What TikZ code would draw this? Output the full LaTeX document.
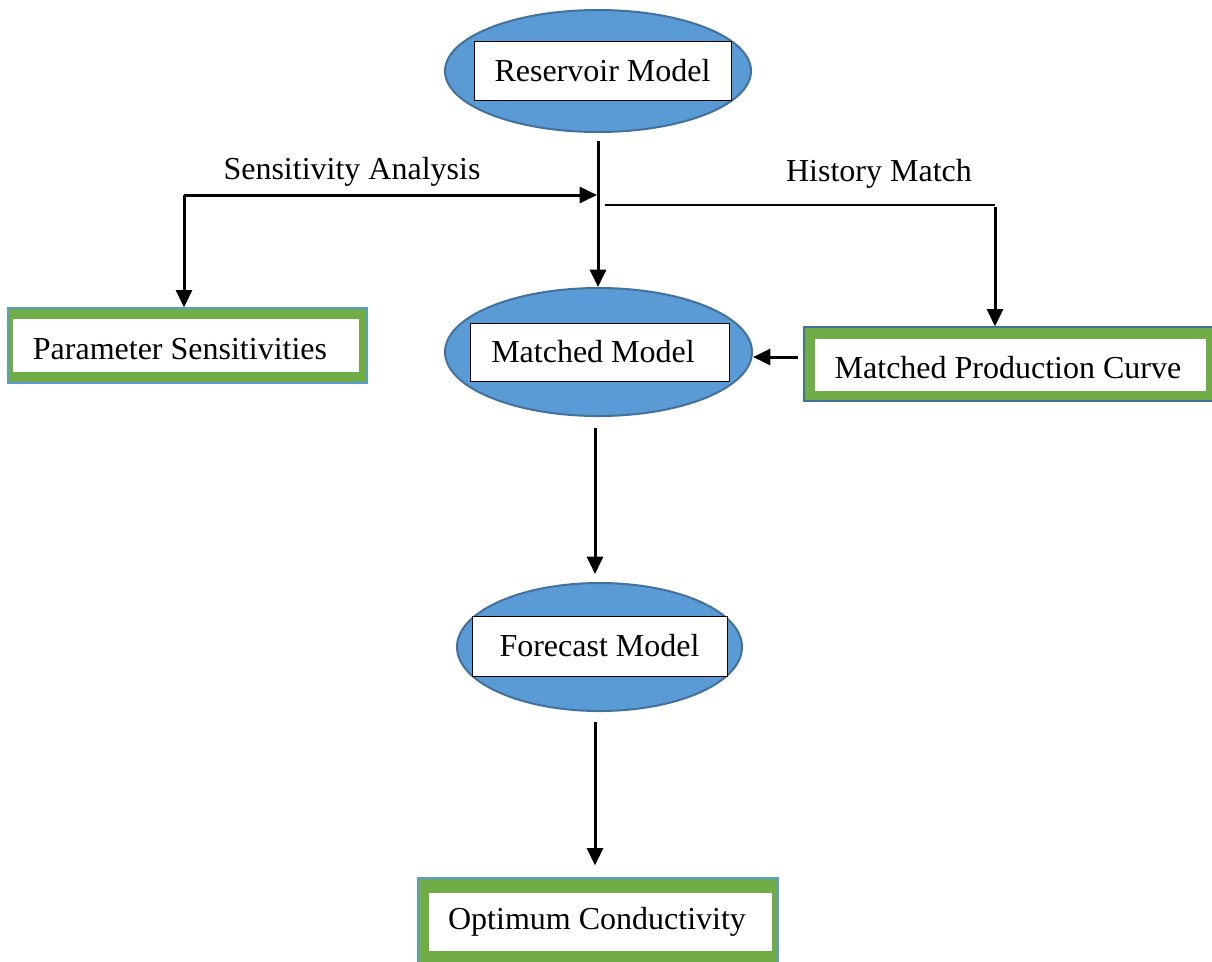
\documentclass[tikz,border=0pt]{standalone}
\usepackage{fontspec}
\setmainfont{Liberation Serif}
\usetikzlibrary{shapes.geometric,arrows.meta,calc}
\definecolor{ellblue}{HTML}{5B9BD5}
\definecolor{elledge}{HTML}{41719C}
\definecolor{boxgreen}{HTML}{70AD47}
\begin{document}
\begin{tikzpicture}[x=0.75pt,y=-0.75pt,
  every node/.style={font=\fontsize{24pt}{28pt}\selectfont},
  ell/.style={ellipse,draw=elledge,line width=1.5pt,fill=ellblue,inner sep=0pt},
  inrect/.style={rectangle,draw=black,line width=0.75pt,fill=white,inner sep=0pt},
  gframe/.style={rectangle,draw=ellblue,line width=1pt,fill=boxgreen,inner sep=0pt},
  wfill/.style={rectangle,fill=white,inner sep=0pt},
  arr/.style={line width=2.25pt,-{Triangle[length=13pt,width=12pt]}},
  thinline/.style={line width=0.9pt}]
\clip (0,0) rectangle (1212,961);
\fill[white] (0,0) rectangle (1212,961);

% Ellipses with inner boxes
\node[ell,minimum width=229.5pt,minimum height=91.5pt] (res) at (598,71) {};
\node[inrect,minimum width=192.75pt,minimum height=44.25pt] (resbox) at (602.5,70.5) {Reservoir Model};

\node[ell,minimum width=230.25pt,minimum height=96pt] (mm) at (598.5,352) {};
\node[inrect,minimum width=194.25pt,minimum height=43.5pt] (mmbox) at (599.5,352) {};
\node (mmtext) at (593,352) {Matched Model};

\node[ell,minimum width=213.75pt,minimum height=96pt] (fm) at (599.5,647) {};
\node[inrect,minimum width=191.25pt,minimum height=45pt] (fmbox) at (599.5,646) {Forecast Model};

% Green framed boxes
\node[gframe,minimum width=269.25pt,minimum height=56.25pt] (ps) at (187.5,345.5) {};
\node[wfill,minimum width=259.5pt,minimum height=39.75pt] (psin) at (186,345.5) {};
\node (pstext) at (180,349) {Parameter Sensitivities};

\node[gframe,draw=elledge,minimum width=309pt,minimum height=55.5pt] (mpc) at (1010,364) {};
\node[wfill,minimum width=293.25pt,minimum height=39pt] (mpcin) at (1010.5,365) {};
\node (mpctext) at (1008,368) {Matched Production Curve};

\node[gframe,minimum width=270pt,minimum height=69pt] (oc) at (598,924) {};
\node[wfill,minimum width=257.25pt,minimum height=43.5pt] (ocin) at (600.5,922) {};
\node (octext) at (597,922) {Optimum Conductivity};

% Labels
\node (salabel) at (352,172) {Sensitivity Analysis};
\node (hmlabel) at (879,174) {History Match};

% Coordinates
\coordinate (sa) at (184,195);
\coordinate (j1) at (597,195);
\coordinate (hm1) at (605,205);
\coordinate (hm2) at (995,205);
\coordinate (pc) at (798,357);
\coordinate (mo) at (595,428);
\coordinate (fo) at (595,722);

% Connectors
\draw[arr,shorten <=6pt] (res.south) -- (res.south |- mm.north);
\draw[arr] (sa) -- (j1);
\draw[arr] (sa) -- (sa |- ps.north);
\draw[thinline] (hm1) -- (hm2);
\draw[arr,shorten <=1.5pt] (hm2) -- (hm2 |- mpc.north);
\draw[arr] (pc) -- (pc -| mm.east);
\draw[arr,shorten >=6pt] (mo) -- (mo |- fm.north);
\draw[arr,shorten >=9pt] (fo) -- (fo |- oc.north);
\end{tikzpicture}
\end{document}
